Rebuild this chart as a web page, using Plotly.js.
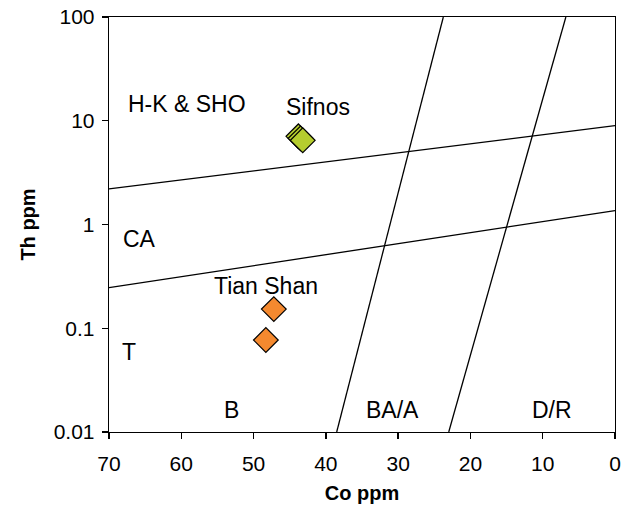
<!DOCTYPE html>
<html>
<head>
<meta charset="utf-8">
<script src="https://cdn.plot.ly/plotly-3.0.1.min.js"></script>
<style>
html,body{margin:0;padding:0;background:#fff;}
#chart{width:627px;height:508px;}
</style>
</head>
<body>
<div id="chart"></div>
<script>
// Field boundary lines (Co ppm, Th ppm)
const upperLineCo = [70, 0];
const upperLineTh = [2.2, 8.96];
const lowerLineCo = [70, 0];
const lowerLineTh = [0.246, 1.36];
const steep1Co = [38.5, 23.75];
const steep1Th = [0.01, 100];
const steep2Co = [23.0, 6.8];
const steep2Th = [0.01, 100];

// Samples
const sifnosCo = [43.8, 43.5, 43.2];
const sifnosTh = [7.08, 6.77, 6.48];
const tianShanCo = [47.2, 48.3];
const tianShanTh = [0.153, 0.077];

// Ticks
const yTickVals = [0.01, 0.1, 1, 10, 100];
const yTickText = ['0.01', '0.1', '1', '10', '100'];
const xTickVals = [70, 60, 50, 40, 30, 20, 10, 0];

// Field labels: [text, Co, Th]
const fieldLabels = [
  ['H-K &amp; SHO', 59.2, 14.5],
  ['Sifnos', 41.1, 13.6],
  ['CA', 65.85, 0.725],
  ['Tian Shan', 48.3, 0.2554],
  ['T', 67.2, 0.059],
  ['B', 53.0, 0.0163],
  ['BA/A', 30.85, 0.0163],
  ['D/R', 8.7, 0.0163]
];

const FONT = 'Arial, "Liberation Sans", Helvetica, sans-serif';
const lineStyle = {color: '#000', width: 1.3};

function lineTrace(x, y) {
  return {x: x, y: y, type: 'scatter', mode: 'lines', line: lineStyle, hoverinfo: 'skip', showlegend: false};
}

const traces = [
  lineTrace(upperLineCo, upperLineTh),
  lineTrace(lowerLineCo, lowerLineTh),
  lineTrace(steep1Co, steep1Th),
  lineTrace(steep2Co, steep2Th),
  {x: sifnosCo, y: sifnosTh, type: 'scatter', mode: 'markers', showlegend: false,
   marker: {symbol: 'diamond', size: 19, color: '#b5cc2e', line: {color: '#000', width: 1.2}}},
  {x: tianShanCo, y: tianShanTh, type: 'scatter', mode: 'markers', showlegend: false,
   marker: {symbol: 'diamond', size: 19, color: '#f4892f', line: {color: '#000', width: 1.2}}}
];

const annotations = fieldLabels.map(function (d) {
  return {text: d[0], x: d[1], y: Math.log10(d[2]), xref: 'x', yref: 'y',
          showarrow: false, xanchor: 'center', yanchor: 'middle',
          font: {family: FONT, size: 23, color: '#000'}};
});

const layout = {
  width: 627, height: 508,
  margin: {l: 109, r: 12, t: 17, b: 76},
  paper_bgcolor: '#fff', plot_bgcolor: '#fff',
  showlegend: false,
  font: {family: FONT, color: '#000'},
  xaxis: {
    range: [70, 0], tickvals: xTickVals, ticks: 'outside', ticklen: 6, tickwidth: 1.3,
    tickcolor: '#000', showline: true, linecolor: '#000', linewidth: 1.3, mirror: true,
    showgrid: false, zeroline: false, tickfont: {family: FONT, size: 21, color: '#000'},
    ticklabelstandoff: 6,
    title: {text: '<b>Co ppm</b>', font: {family: FONT, size: 20, color: '#000'}, standoff: 12}
  },
  yaxis: {
    type: 'log', range: [-2, 2], tickvals: yTickVals, ticktext: yTickText,
    ticks: 'outside', ticklen: 6, tickwidth: 1.3, tickcolor: '#000',
    showline: true, linecolor: '#000', linewidth: 1.3, mirror: true,
    showgrid: false, zeroline: false, tickfont: {family: FONT, size: 21, color: '#000'},
    ticklabelstandoff: 3,
    title: {text: '<b>Th ppm</b>', font: {family: FONT, size: 20, color: '#000'}, standoff: 12}
  },
  annotations: annotations
};

Plotly.newPlot('chart', traces, layout, {displayModeBar: false, staticPlot: true});
</script>
</body>
</html>
